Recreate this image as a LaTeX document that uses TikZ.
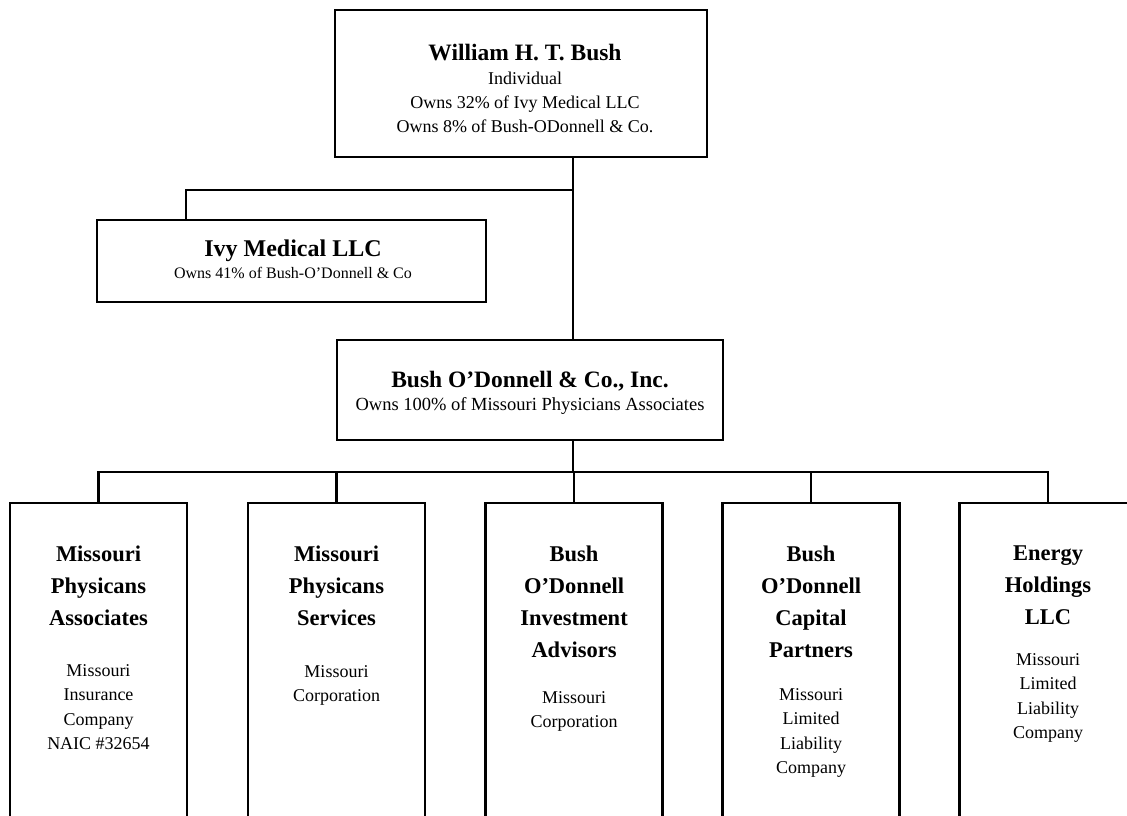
\documentclass[tikz,border=0pt]{standalone}
\usepackage{fontspec}
\setmainfont{Liberation Serif}
\usetikzlibrary{positioning}
\begin{document}
\begin{tikzpicture}[x=1pt,y=-1pt,
  box/.style={draw=black, line width=2.8pt, rectangle, inner sep=0pt},
  conn/.style={draw=black, line width=2.5pt},
  bigtxt/.style={align=center, inner sep=0pt, font=\fontsize{18}{24}\selectfont},
  midtxt/.style={align=center, inner sep=0pt, font=\fontsize{18.5}{23}\selectfont},
  ivytxtstyle/.style={align=center, inner sep=0pt, font=\fontsize{16}{22}\selectfont},
  btitle/.style={align=center, inner sep=0pt, anchor=north, font=\fontsize{22.5}{32}\selectfont\bfseries},
  bsmall/.style={align=center, inner sep=0pt, anchor=north, font=\fontsize{18}{24.5}\selectfont},
  bottombox/.style={box, minimum width=177pt, minimum height=327pt}]
\useasboundingbox (0,0) rectangle (1127,816);
\fill[white] (0,0) rectangle (1127,816);
\clip (0,0) rectangle (1127,816);

% top box
\node[box, minimum width=372pt, minimum height=147pt] (top) at (521,83.5) {};
\node[bigtxt] (toptxt) at (525,88) {{\fontsize{23.5}{25}\selectfont\bfseries William H. T. Bush}\\Individual\\Owns 32\% of Ivy Medical LLC\\Owns 8\% of Bush-ODonnell \& Co.};

% Ivy
\node[box, minimum width=389pt, minimum height=82pt] (ivy) at (291.5,261) {};
\node[ivytxtstyle] (ivytxt) at (293,259) {{\fontsize{24}{25}\selectfont\bfseries Ivy Medical LLC}\\Owns 41\% of Bush-O'Donnell \& Co};

% Bush O'Donnell
\node[box, minimum width=386pt, minimum height=100pt] (bod) at (530,390) {};
\node[midtxt] (bodtxt) at (530,393) {{\fontsize{23.5}{25}\selectfont\bfseries Bush O'Donnell \& Co., Inc.}\\Owns 100\% of Missouri Physicians Associates};

% bottom boxes
\node[bottombox] (b1) at (98.5,666.5) {};
\node[bottombox] (b2) at (336.5,666.5) {};
\node[bottombox] (b3) at (574,666.5) {};
\node[bottombox] (b4) at (811,666.5) {};
\node[bottombox] (b5) at (1048,666.5) {};

\node[btitle] (t1) at (98.5,546) {Missouri\\Physicans\\Associates};
\node[bsmall, below=38pt of t1] (s1) {Missouri\\Insurance\\Company\\NAIC \#32654};
\node[btitle] (t2) at (336.5,546) {Missouri\\Physicans\\Services};
\node[bsmall, below=39pt of t2] (s2) {Missouri\\Corporation};
\node[btitle] (t3) at (574,546) {Bush\\O'Donnell\\Investment\\Advisors};
\node[bsmall, below=33pt of t3] (s3) {Missouri\\Corporation};
\node[btitle] (t4) at (811,546) {Bush\\O'Donnell\\Capital\\Partners};
\node[bsmall, below=30pt of t4] (s4) {Missouri\\Limited\\Liability\\Company};
\node[btitle] (t5) at (1048,546) {Energy\\Holdings\\LLC};
\node[bsmall, below=28pt of t5] (s5) {Missouri\\Limited\\Liability\\Company};

% connectors
\coordinate (trunk) at (573,190);
\coordinate (ivybr) at (186,190);
\coordinate (bus) at (573,472);
\draw[conn] (top.south -| trunk) -- (bod.north -| trunk);
\draw[conn] (ivy.north -| ivybr) -- (ivybr) -- (trunk);
\draw[conn] (bod.south -| bus) -- (bus);
\draw[conn] (b1.north) -- (b1.north |- bus) -- (b5.north |- bus) -- (b5.north);
\draw[conn] (b2.north) -- (b2.north |- bus);
\draw[conn] (b3.north) -- (b3.north |- bus);
\draw[conn] (b4.north) -- (b4.north |- bus);
\end{tikzpicture}
\end{document}
